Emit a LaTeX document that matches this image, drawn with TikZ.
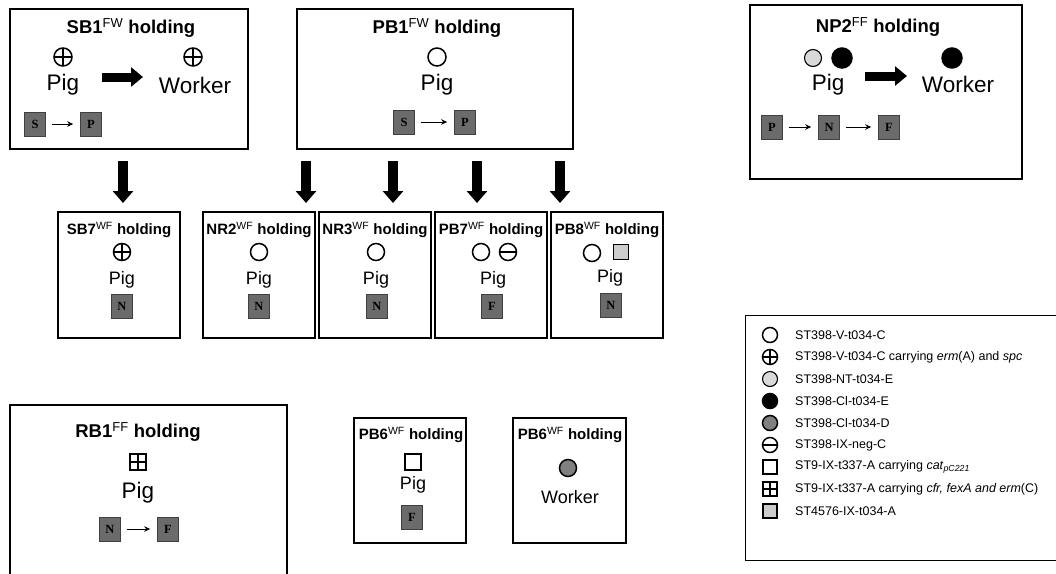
\documentclass[tikz,border=0pt]{standalone}
\usepackage{fontspec}
\setmainfont{Liberation Sans}
\newfontfamily\serifb{Liberation Serif}
\usetikzlibrary{arrows.meta}
\begin{document}
\begin{tikzpicture}[x=1pt,y=-1pt,
 frame/.style={draw, line width=1.2pt, inner sep=0pt},
 ttl/.style={font=\bfseries\fontsize{18.5}{20}\selectfont, inner sep=0pt},
 ttls/.style={font=\bfseries\fontsize{15}{17}\selectfont, inner sep=0pt},
 lbl/.style={font=\fontsize{22.5}{24}\selectfont, inner sep=0pt},
 lbls/.style={font=\fontsize{18}{19}\selectfont, inner sep=0pt},
 lgd/.style={font=\fontsize{12.5}{14}\selectfont, anchor=west, inner sep=0pt},
 ocirc/.style={circle, draw, line width=1.5pt, inner sep=0pt, minimum size=#1},
 osq/.style={rectangle, draw, line width=1.4pt, inner sep=0pt, minimum size=#1},
 crossed/.style={path picture={\draw[line width=1.3pt] (path picture bounding box.north) -- (path picture bounding box.south) (path picture bounding box.west) -- (path picture bounding box.east);}},
 barred/.style={path picture={\draw[line width=1.3pt] (path picture bounding box.west) -- (path picture bounding box.east);}},
 lbox/.style={draw=black!75, fill=black!58, line width=0.6pt, minimum width=21pt, minimum height=24pt, inner sep=0pt, font=\serifb\bfseries\fontsize{12.5}{13}\selectfont},
 tarr/.style={line width=1pt, -{Stealth[length=6pt,width=5.5pt]}, shorten <=6pt, shorten >=7pt},
 fat/.style={line width=9pt, -{Triangle[length=12pt,width=19pt]}},
 fatdown/.style={line width=10pt, -{Triangle[length=12pt,width=20pt]}}
]
\useasboundingbox (0,0) rectangle (1056,573);
\clip (0,0) rectangle (1056,573);

% ---------- top row ----------
\node[frame, minimum width=238pt, minimum height=140pt] (sb1) at (129,79) {};
\node[ttl] (sb1t) at (131,28) {SB1\textsuperscript{\mdseries FW} holding};
\node[ocirc=18pt, crossed] (sb1c1) at (63,57) {};
\node[lbl] (sb1pig) at (63,85) {Pig};
\node[ocirc=18pt, crossed] (sb1c2) at (193,57) {};
\node[lbl] (sb1wk) at (195,85) {Worker};
\coordinate (sb1a1) at (102,77);
\coordinate (sb1a2) at (143,77);
\draw[fat] (sb1a1) -- (sb1a2);
\node[lbox] (sb1s) at (35,124) {S};
\node[lbox] (sb1p) at (91,124) {P};
\draw[tarr] (sb1s) -- (sb1p);

\node[frame, minimum width=276pt, minimum height=140pt] (pb1) at (435,79) {};
\node[ttl] (pb1t) at (437,28) {PB1\textsuperscript{\mdseries FW} holding};
\node[ocirc=18pt] (pb1c) at (437,57) {};
\node[lbl] (pb1pig) at (437,85) {Pig};
\node[lbox] (pb1s) at (404,122) {S};
\node[lbox] (pb1p) at (465,122) {P};
\draw[tarr] (pb1s) -- (pb1p);

\node[frame, minimum width=272pt, minimum height=174pt] (np2) at (886,92) {};
\node[ttl] (np2t) at (878,27) {NP2\textsuperscript{\mdseries FF} holding};
\node[ocirc=17pt, fill=black!15, line width=1.1pt] (np2c1) at (813,58) {};
\node[ocirc=20pt, fill=black] (np2c2) at (842,58) {};
\node[lbl] (np2pig) at (828,85) {Pig};
\coordinate (np2a1) at (865,76);
\coordinate (np2a2) at (907,76);
\draw[fat] (np2a1) -- (np2a2);
\node[ocirc=20pt, fill=black] (np2c3) at (952,58) {};
\node[lbl] (np2wk) at (958,84) {Worker};
\node[lbox] (np2p) at (772,127) {P};
\node[lbox] (np2n) at (829,127) {N};
\node[lbox] (np2f) at (889,127) {F};
\draw[tarr] (np2p) -- (np2n);
\draw[tarr] (np2n) -- (np2f);

% ---------- second row ----------
\node[frame, minimum width=122pt, minimum height=126pt] (sb7) at (119,275) {};
\node[ttls] (sb7t) at (119,230) {SB7\textsuperscript{\mdseries WF} holding};
\node[ocirc=17pt, crossed] (sb7c) at (122,252) {};
\node[lbls] (sb7pig) at (122,280) {Pig};
\node[lbox] (sb7n) at (122,306) {N};

\node[frame, minimum width=112pt, minimum height=126pt] (nr2) at (259,275) {};
\node[ttls] (nr2t) at (259,230) {NR2\textsuperscript{\mdseries WF} holding};
\node[ocirc=17pt] (nr2c) at (259,252) {};
\node[lbls] (nr2pig) at (259,280) {Pig};
\node[lbox] (nr2n) at (259,306) {N};

\node[frame, minimum width=112pt, minimum height=126pt] (nr3) at (375,275) {};
\node[ttls] (nr3t) at (375,230) {NR3\textsuperscript{\mdseries WF} holding};
\node[ocirc=17pt] (nr3c) at (376,252) {};
\node[lbls] (nr3pig) at (376,280) {Pig};
\node[lbox] (nr3n) at (377,306) {N};

\node[frame, minimum width=112pt, minimum height=126pt] (pb7) at (491,275) {};
\node[ttls] (pb7t) at (491,230) {PB7\textsuperscript{\mdseries WF} holding};
\node[ocirc=17pt] (pb7c1) at (481,252) {};
\node[ocirc=17pt, barred] (pb7c2) at (508,252) {};
\node[lbls] (pb7pig) at (493,280) {Pig};
\node[lbox] (pb7f) at (492,306) {F};

\node[frame, minimum width=112pt, minimum height=126pt] (pb8) at (607,275) {};
\node[ttls] (pb8t) at (607,230) {PB8\textsuperscript{\mdseries WF} holding};
\node[ocirc=17pt] (pb8c) at (592,253) {};
\node[osq=15pt, fill=black!20, line width=1.1pt] (pb8s) at (621,252) {};
\node[lbls] (pb8pig) at (610,278) {Pig};
\node[lbox] (pb8n) at (611,305) {N};

% ---------- down arrows ----------
\coordinate (d1s) at (123,161); \coordinate (d1e) at (123,203);
\coordinate (d2s) at (306,161); \coordinate (d2e) at (306,203);
\coordinate (d3s) at (393,161); \coordinate (d3e) at (393,203);
\coordinate (d4s) at (477,161); \coordinate (d4e) at (477,203);
\coordinate (d5s) at (560,161); \coordinate (d5e) at (560,203);
\draw[fatdown] (d1s) -- (d1e);
\draw[fatdown] (d2s) -- (d2e);
\draw[fatdown] (d3s) -- (d3e);
\draw[fatdown] (d4s) -- (d4e);
\draw[fatdown] (d5s) -- (d5e);

% ---------- third row ----------
\node[frame, minimum width=277pt, minimum height=185pt] (rb1) at (148.5,497.5) {};
\node[ttl] (rb1t) at (138,432) {RB1\textsuperscript{\mdseries FF} holding};
\node[osq=16pt, crossed] (rb1s) at (138,462) {};
\node[lbl] (rb1pig) at (138,493) {Pig};
\node[lbox] (rb1n) at (110,529) {N};
\node[lbox] (rb1f) at (168,529) {F};
\draw[tarr] (rb1n) -- (rb1f);

\node[frame, minimum width=112pt, minimum height=125pt] (pb6a) at (410,480.5) {};
\node[ttls] (pb6at) at (411,435) {PB6\textsuperscript{\mdseries WF} holding};
\node[osq=16pt] (pb6as) at (413,462) {};
\node[lbls] (pb6apig) at (413,485) {Pig};
\node[lbox] (pb6af) at (412,517) {F};

\node[frame, minimum width=113pt, minimum height=125pt] (pb6b) at (569.5,480.5) {};
\node[ttls] (pb6bt) at (570,435) {PB6\textsuperscript{\mdseries WF} holding};
\node[ocirc=17pt, fill=black!50] (pb6bc) at (568,468) {};
\node[lbls] (pb6bwk) at (570,497) {Worker};

% ---------- legend ----------
\node[frame, line width=0.8pt, minimum width=330pt, minimum height=245pt] (leg) at (910,437.5) {};
\node[ocirc=15pt] (l1) at (770,335) {};
\node[lgd] (l1t) at (795,335) {ST398-V-t034-C};
\node[ocirc=15pt, crossed] (l2) at (770,357) {};
\node[lgd] (l2t) at (795,357) {ST398-V-t034-C carrying \textit{erm}(A) and \textit{spc}};
\node[ocirc=15pt, fill=black!15, line width=1.1pt] (l3) at (770,379) {};
\node[lgd] (l3t) at (795,379) {ST398-NT-t034-E};
\node[ocirc=15pt, fill=black] (l4) at (770,401) {};
\node[lgd] (l4t) at (795,401) {ST398-Cl-t034-E};
\node[ocirc=15pt, fill=black!50] (l5) at (770,423) {};
\node[lgd] (l5t) at (795,423) {ST398-Cl-t034-D};
\node[ocirc=15pt, barred] (l6) at (770,445) {};
\node[lgd] (l6t) at (795,445) {ST398-IX-neg-C};
\node[osq=14pt] (l7) at (770,467) {};
\node[lgd] (l7t) at (795,467) {ST9-IX-t337-A carrying \textit{cat}$_{\mathit{pC221}}$};
\node[osq=14pt, crossed] (l8) at (770,489) {};
\node[lgd] (l8t) at (795,489) {ST9-IX-t337-A carrying \textit{cfr, fexA and erm}(C)};
\node[osq=14pt, fill=black!20, line width=1.1pt] (l9) at (770,511) {};
\node[lgd] (l9t) at (795,511) {ST4576-IX-t034-A};
\end{tikzpicture}
\end{document}
